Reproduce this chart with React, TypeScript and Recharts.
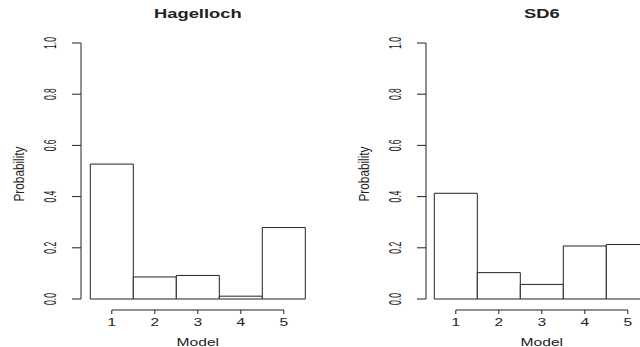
import React from "react"
import { BarChart, Bar, XAxis, YAxis, ReferenceLine } from "recharts"

const models = ["1", "2", "3", "4", "5"]
const hagelloch = [0.527, 0.086, 0.092, 0.011, 0.279]
const sd6 = [0.413, 0.103, 0.057, 0.207, 0.213]
const yTicks = [0, 0.2, 0.4, 0.6, 0.8, 1.0]

const INK = "#222"
const FONT = "'Liberation Sans', Arial, sans-serif"

// the source picture is stretched sideways, so text is scaled to match
function YTick(props: any) {
  const { x, y, payload } = props
  return (
    <text
      transform={`translate(${x - 22}, ${y}) rotate(-90) scale(1, 2)`}
      textAnchor="middle"
      dominantBaseline="central"
      fontFamily={FONT}
      fontSize={8.5}
      fill={INK}
    >
      {Number(payload.value).toFixed(1)}
    </text>
  )
}

function XTick(props: any) {
  const { x, y, payload } = props
  return (
    <g>
      <line x1={x} x2={x} y1={y + 11} y2={y + 15} stroke={INK} />
      <text
        transform={`translate(${x}, ${y + 24}) scale(1.55, 1)`}
        textAnchor="middle"
        dominantBaseline="central"
        fontFamily={FONT}
        fontSize={10}
        fill={INK}
      >
        {payload.value}
      </text>
    </g>
  )
}

interface PanelProps {
  title: string
  values: number[]
  left: number
  width: number
  axisWidth: number
  padLeft: number
  padRight: number
}

function Panel({ title, values, left, width, axisWidth, padLeft, padRight }: PanelProps) {
  const data = models.map((m, i) => ({ model: m, p: values[i] }))
  const center = left + axisWidth + padLeft + 43 * 2.5
  return (
    <>
      <div style={{ position: "absolute", left, top: 0 }}>
        <BarChart
          width={width}
          height={347}
          data={data}
          margin={{ top: 43, right: 0, bottom: 8, left: 0 }}
          barCategoryGap={0}
          barGap={0}
        >
          <XAxis
            dataKey="model"
            height={40}
            axisLine={false}
            tickLine={false}
            tickSize={0}
            tickMargin={0}
            padding={{ left: padLeft, right: padRight }}
            tick={<XTick />}
            interval={0}
          />
          <YAxis
            width={axisWidth}
            domain={[0, 1]}
            ticks={yTicks}
            tickSize={9}
            tickMargin={0}
            axisLine={{ stroke: INK }}
            tickLine={{ stroke: INK }}
            tick={<YTick />}
          />
          <ReferenceLine
            segment={[
              { x: "1", y: -0.043 },
              { x: "5", y: -0.043 },
            ]}
            stroke={INK}
            ifOverflow="visible"
          />
          <Bar dataKey="p" fill="#fff" stroke={INK} strokeWidth={1} isAnimationActive={false} />
        </BarChart>
      </div>
      <svg
        width={640}
        height={347}
        style={{ position: "absolute", left: 0, top: 0, pointerEvents: "none" }}
      >
        <text
          transform={`translate(${center}, 18) scale(1.53, 1)`}
          textAnchor="middle"
          fontFamily={FONT}
          fontWeight="bold"
          fontSize={12}
          fill={INK}
        >
          {title}
        </text>
        <text
          transform={`translate(${left + axisWidth - 62}, 174) rotate(-90) scale(1, 1.25)`}
          textAnchor="middle"
          dominantBaseline="central"
          fontFamily={FONT}
          fontSize={11.8}
          fill={INK}
        >
          Probability
        </text>
        <text
          transform={`translate(${center}, 346) scale(1.56, 1)`}
          textAnchor="middle"
          fontFamily={FONT}
          fontSize={10}
          fill={INK}
        >
          Model
        </text>
      </svg>
    </>
  )
}

export default function App() {
  return (
    <div
      style={{
        position: "absolute",
        left: 0,
        top: 0,
        width: 640,
        height: 347,
        overflow: "hidden",
        background: "#fff",
      }}
    >
      <Panel title="Hagelloch" values={hagelloch} left={0} width={320} axisWidth={81} padLeft={9.3} padRight={14.7} />
      <Panel title="SD6" values={sd6} left={320} width={340} axisWidth={106} padLeft={8.3} padRight={10.7} />
    </div>
  )
}
